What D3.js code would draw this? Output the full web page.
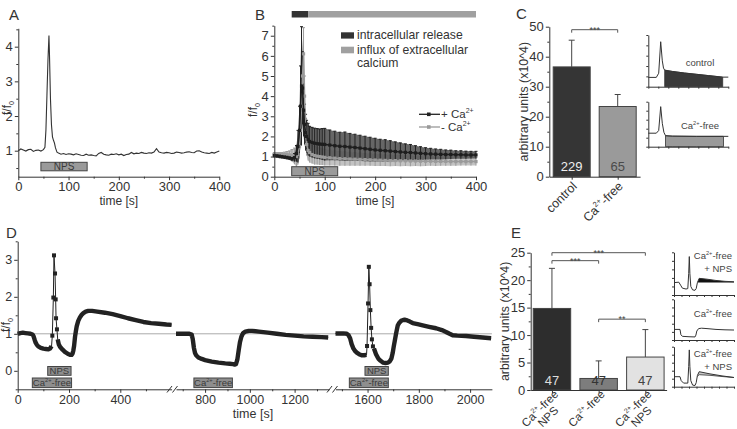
<!DOCTYPE html>
<html><head><meta charset="utf-8">
<script src="https://cdn.jsdelivr.net/npm/d3@7"></script>
<style>html,body{margin:0;padding:0;background:#fff;} svg{display:block;}</style>
</head><body>
<svg id="chart" width="737" height="429"></svg>
<script>
// ================= DATA =================
// Panel A: single-cell trace [time s, f/f0]
const aTrace = [[0,1.0],[5,1.05],[10,1.02],[15,0.99],[20,1.03],[25,1.04],[30,0.98],[35,1.01],[40,1.02],[45,0.99],[50,1.03],
 [53,1.1],[55,1.6],[57,2.6],[59,3.6],[61,4.32],[62,3.8],[64,2.5],[66,1.75],[68,1.4],[70,1.3],[72,1.22],[74,1.08],[77,0.96],
 [80,0.93],[85,0.9],[90,0.92],[95,0.89],[100,0.91],[105,0.9],[110,0.88],[115,0.91],[120,0.89],[125,0.87],[130,0.86],[135,0.9],
 [140,0.87],[145,0.88],[150,0.86],[155,0.85],[160,0.92],[165,0.95],[170,0.9],[175,0.88],[180,0.87],[185,0.9],[190,0.89],[195,0.91],
 [200,0.88],[205,0.9],[210,0.86],[215,0.89],[220,0.9],[225,0.95],[230,0.91],[235,0.93],[240,0.92],[245,0.95],[250,0.93],[255,0.92],
 [260,0.94],[265,0.93],[270,0.96],[275,1.06],[280,0.96],[285,0.94],[290,0.93],[295,0.95],[300,0.94],[305,0.92],[310,0.93],[315,0.96],
 [320,0.95],[325,0.93],[330,0.94],[335,0.96],[340,0.97],[345,0.95],[350,0.94],[355,0.99],[360,1.0],[365,0.96],[370,0.94],[375,0.93],
 [380,0.92],[385,0.95],[390,0.93],[395,0.96],[400,0.99]];
const aStim = [45,137];
const aTicks = [0,100,200,300,400];

// Panel B: mean traces [time, mean, sd]
const bPlusCa = [[0,1.05,0.1],[5,1.04,0.1],[10,1.02,0.1],[15,1.0,0.1],[20,0.98,0.1],[25,0.96,0.1],[30,0.93,0.1],[35,0.9,0.12],[40,0.95,0.2],
 [44,1.15,0.4],[47,1.5,0.8],[50,2.3,1.2],[52,3.5,2.0],[54,4.5,2.95],[56,4.4,1.8],[58,3.3,1.3],[60,2.6,1.0],[62,2.2,0.9],[64,2.0,0.8],
 [67,1.85,0.8],[70,1.75,0.75],[75,1.7,0.75],[80,1.66,0.75],[85,1.64,0.75],[90,1.62,0.75],[95,1.61,0.78],[100,1.6,0.8],[110,1.57,0.75],
 [120,1.54,0.72],[130,1.51,0.7],[140,1.5,0.72],[150,1.47,0.68],[160,1.45,0.66],[170,1.42,0.64],[180,1.39,0.62],[190,1.36,0.6],[200,1.33,0.58],
 [210,1.31,0.55],[220,1.29,0.55],[230,1.27,0.52],[240,1.25,0.48],[250,1.23,0.45],[260,1.21,0.42],[270,1.2,0.4],[280,1.18,0.36],[290,1.16,0.33],
 [300,1.14,0.3],[310,1.13,0.28],[320,1.12,0.26],[330,1.11,0.25],[340,1.1,0.23],[350,1.1,0.22],[360,1.09,0.2],[370,1.09,0.2],[380,1.08,0.19],
 [390,1.08,0.18],[400,1.08,0.18]];
const bMinusCa = [[0,1.1,0.1],[5,1.1,0.1],[10,1.1,0.1],[15,1.1,0.1],[20,1.1,0.12],[25,1.1,0.15],[30,1.08,0.2],[35,1.05,0.3],[40,1.02,0.4],
 [44,1.0,0.5],[47,1.1,0.5],[50,1.5,0.6],[52,2.3,0.8],[54,3.5,1.0],[56,5.0,1.2],[58,6.1,1.3],[60,4.0,1.0],[62,2.2,0.7],[64,1.6,0.55],
 [67,1.3,0.5],[70,1.2,0.5],[75,1.1,0.45],[80,1.05,0.45],[85,1.02,0.42],[90,1.0,0.42],[95,0.98,0.4],[100,0.96,0.4],[110,0.94,0.38],
 [120,0.92,0.37],[130,0.9,0.36],[140,0.89,0.35],[150,0.88,0.34],[160,0.87,0.33],[170,0.86,0.32],[180,0.85,0.31],[190,0.84,0.3],[200,0.83,0.3],
 [210,0.82,0.29],[220,0.81,0.28],[230,0.8,0.28],[240,0.8,0.27],[250,0.79,0.27],[260,0.79,0.26],[270,0.78,0.26],[280,0.78,0.25],[290,0.77,0.25],
 [300,0.77,0.24],[310,0.77,0.23],[320,0.76,0.23],[330,0.76,0.22],[340,0.76,0.22],[350,0.75,0.21],[360,0.75,0.21],[370,0.75,0.2],[380,0.75,0.2],
 [390,0.75,0.2],[400,0.75,0.2]];
const bStim = [34.5,125.7];
const bPhases = [{name:"intracellular release", t0:34.5, t1:67},{name:"influx of extracellular calcium", t0:67, t1:400}];
const bTicksY = [0,1,2,3,4,5,6,7];

// Panel C: bar chart
const cCategories = ["control","Ca-free"];
const cValues = [36.6, 23.4];
const cErrors = [8.9, 4.0];
const cN = [229, 65];
const cTicks = [0,10,20,30,40,50];
const cSig = [{from:0,to:1,level:49,label:"***"}];
// insets of C: schematic traces [t, value]
const cInsetControl = [[0,1.8],[10,1.8],[13,2.6],[15.5,8.7],[17.5,5],[19,3.6],[20.5,3.2],[30,2.95],[45,2.65],[60,2.4],[75,2.15],[93,1.85],[100,1.85]];
const cInsetFree = [[0,3.0],[10,3.0],[13,3.6],[15.5,8.9],[17.5,5.2],[19.5,3.2],[21.5,2.45],[30,2.35],[60,2.3],[94,2.3],[100,2.3]];

// Panel D: three recording segments [time s, f/f0]
const dSeg1 = [[0,1.0],[10,1.02],[20,1.03],[30,1.02],[40,1.01],[50,1.0],[58,0.98],[62,0.93],[66,0.84],[70,0.76],[75,0.7],[80,0.66],[90,0.62],
 [100,0.6],[110,0.59],[120,0.58],[126,0.6],[132,0.67],[135,0.95],[139,1.98],[141.5,3.12],[145.5,2.63],[148,1.93],[149.5,1.42],[153,1.12],
 [156,0.85],[160,0.72],[165,0.65],[175,0.57],[184,0.51],[195,0.46],[204,0.43],[210,0.43],[214,0.47],[217,0.55],[220,0.68],[223.5,0.92],
 [227,1.08],[230,1.2],[236,1.35],[243,1.45],[250,1.52],[256,1.56],[265,1.6],[275,1.62],[290,1.62],[310,1.6],[340,1.57],[370,1.53],
 [400,1.48],[430,1.42],[460,1.37],[490,1.32],[520,1.29],[550,1.27],[580,1.25],[600,1.24]];
const dSeg2 = [[670,1.0],[690,1.0],[710,1.0],[730,1.0],[740,0.98],[745,0.85],[750,0.62],[755,0.48],[760,0.42],[770,0.36],[785,0.32],
 [800,0.29],[830,0.25],[860,0.22],[890,0.2],[910,0.19],[925,0.18],[932,0.17],[938,0.18],[944,0.3],[950,0.55],[956,0.78],[962,0.92],
 [970,1.02],[980,1.06],[995,1.08],[1010,1.08],[1040,1.06],[1080,1.03],[1120,1.0],[1160,0.97],[1200,0.95],[1240,0.93],[1280,0.92],
 [1320,0.91],[1350,0.9]];
const dSeg3 = [[1475,1.01],[1490,1.01],[1505,1.01],[1519,1.0],[1525,0.97],[1532,0.88],[1538,0.72],[1545,0.6],[1552,0.53],[1558,0.49],
 [1567,0.45],[1577,0.42],[1587,0.42],[1596,0.43],[1598,0.67],[1602,1.82],[1605,2.81],[1608,2.34],[1611,1.64],[1614,1.16],[1617,0.85],
 [1621,0.66],[1625,0.6],[1633,0.45],[1642,0.33],[1651,0.27],[1661,0.22],[1670,0.21],[1680,0.22],[1687,0.26],[1693,0.33],[1698,0.48],
 [1702,0.65],[1706,0.8],[1710,0.96],[1714,1.1],[1718,1.23],[1724,1.3],[1731,1.35],[1737,1.37],[1744,1.38],[1755,1.36],[1765,1.33],
 [1776,1.29],[1795,1.26],[1815,1.23],[1840,1.19],[1867,1.15],[1890,1.1],[1906,1.05],[1920,1.0],[1932,0.96],[1950,0.95],[1984,0.94],
 [2015,0.92],[2049,0.9],[2082,0.88]];
const dStimuli = [
  {seg:0,label:"NPS",t0:117,t1:208,row:0},
  {seg:0,label:"Ca-free",t0:57,t1:210,row:1},
  {seg:1,label:"Ca-free",t0:750,t1:922,row:1},
  {seg:2,label:"NPS",t0:1590,t1:1681,row:0},
  {seg:2,label:"Ca-free",t0:1529,t1:1681,row:1}];
const dTicksY = [0,1,2,3];

// Panel E
const eCategories = ["Ca-free + NPS","Ca-free","Ca-free NPS"];
const eValues = [14.85, 2.1, 6.0];
const eErrors = [7.3, 3.2, 5.0];
const eN = [47,47,47];
const eTicks = [0,5,10,15,20,25];
const eSig = [{from:0,to:2,level:25,label:"***"},{from:0,to:1,level:23.55,label:"***"},{from:1,to:2,level:12.9,label:"**"}];
const eInsetTop = [[0,2.9],[8,3.0],[11,2.3],[14,1.6],[20,1.4],[23,1.5],[24.5,5],[25.5,9],[26.5,5],[28,2],[31,1.2],[35,1.1],[37,1.5],[39,2.9],[42,3.9],[55,3.7],[70,3.4],[85,3.2],[100,3.1]];
const eInsetMid = [[0,2.6],[10,2.6],[11.5,1.3],[14,0.9],[25,0.8],[35,0.75],[36.5,1.2],[38,2.2],[41,2.8],[46,2.9],[55,2.8],[70,2.6],[85,2.5],[100,2.45]];
const eInsetBot = [[0,2.5],[10,2.5],[12,1.5],[16,0.9],[23,0.9],[24.5,5],[25.5,9.2],[26.5,5],[28,1.5],[31,0.4],[35,0.3],[37,1.0],[39,2.8],[42,3.75],[60,3.2],[80,2.7],[100,2.3]];
const eInsetBotRef = [[39,2.6],[42,3.0],[60,2.85],[80,2.55],[100,2.3]];

// ================= DRAWING =================
const FONT = 'Arial, "Liberation Sans", Helvetica, sans-serif';
const INK = "#333";
const fmt = d3.format("d");
const svg = d3.select("#chart").attr("font-family", FONT);

function styleAxis(g, fs){
  g.selectAll(".domain").attr("stroke",INK).attr("stroke-width",1);
  g.selectAll(".tick line").attr("stroke",INK);
  g.selectAll(".tick text").attr("fill",INK).attr("font-size",fs).attr("font-family",FONT);
  return g;
}
function minor(g, axis){
  g.call(axis.tickFormat(""));
  g.select(".domain").remove();
  g.selectAll(".tick line").attr("stroke",INK);
}
function range(a,b,s){ const r=[]; for(let v=a; v<=b+1e-9; v+=s) r.push(+v.toFixed(4)); return r; }
function rich(t, parts, fs){
  let cur = 0;
  parts.forEach(p => {
    let s=p, type='n';
    if (Array.isArray(p)) { s=p[0]; type=p[1]; }
    const target = type==='sup' ? -fs*0.42 : type==='sub' ? fs*0.28 : 0;
    const ts = t.append("tspan").text(s);
    if (target-cur !== 0) ts.attr("dy", target-cur);
    if (type!=='n') ts.attr("font-size", fs*0.6);
    cur = target;
  });
  return t;
}
const caFree = ["Ca",["2+","sup"],"-free"];
function panelLetter(x,y,s){ svg.append("text").attr("x",x).attr("y",y).attr("font-size",15).attr("fill",INK).text(s); }
function yLabelFF(x,y){
  const t = svg.append("text").attr("transform",`translate(${x},${y}) rotate(-90)`).attr("text-anchor","middle").attr("font-size",12).attr("fill",INK);
  rich(t, ["f/f",["0","sub"]], 12);
}
function stimBox(g, x0, x1, y, h, parts, fill, fs){
  g.append("rect").attr("x",x0).attr("y",y).attr("width",x1-x0).attr("height",h)
    .attr("fill",fill).attr("stroke","#444").attr("stroke-width",1);
  const t = g.append("text").attr("x",(x0+x1)/2).attr("y",y+h/2+fs*0.36).attr("text-anchor","middle")
    .attr("font-size",fs).attr("fill","#3a3a3a");
  rich(t, parts, fs);
}

// ---------- Panel A ----------
{
  const x = d3.scaleLinear().domain([0,400]).range([18.3,219.3]);
  const y = d3.scaleLinear().domain([0.25,4.53]).range([176.7,28.3]);
  const g = svg.append("g");
  minor(g.append("g").attr("transform","translate(0,176.7)"), d3.axisBottom(x).tickValues(range(50,350,100)).tickSize(2));
  minor(g.append("g").attr("transform","translate(18.3,0)"), d3.axisLeft(y).tickValues([0.5,1.5,2.5,3.5,4.5]).tickSize(2));
  styleAxis(g.append("g").attr("transform","translate(0,176.7)").call(d3.axisBottom(x).tickValues(aTicks).tickFormat(fmt).tickSize(3.5).tickSizeOuter(0).tickPadding(1.5)),13);
  styleAxis(g.append("g").attr("transform","translate(18.3,0)").call(d3.axisLeft(y).tickValues([1,2,3,4]).tickFormat(fmt).tickSize(3.5).tickSizeOuter(0).tickPadding(2)),13);
  g.append("path").datum(aTrace).attr("fill","none").attr("stroke","#333").attr("stroke-width",1.1)
    .attr("d", d3.line().x(d=>x(d[0])).y(d=>y(d[1])));
  stimBox(g, x(aStim[0]), x(aStim[1]), 162.3, 8.5, ["NPS"], "#9a9a9a", 10);
  g.append("text").attr("x",(18.3+219.3)/2).attr("y",205).attr("text-anchor","middle").attr("font-size",12).attr("fill",INK).text("time [s]");
  yLabelFF(11,108);
  panelLetter(9,20,"A");
}

// ---------- Panel B ----------
{
  const x = d3.scaleLinear().domain([0,400]).range([274.3,476]);
  const y = d3.scaleLinear().domain([0,7.5]).range([176.7,25.65]);
  const g = svg.append("g");
  g.selectAll("rect.phase").data(bPhases).enter().append("rect")
    .attr("x",d=>x(d.t0)).attr("width",d=>x(d.t1)-x(d.t0)).attr("y",11).attr("height",6.5)
    .attr("fill",(d,i)=>i===0?"#333":"#a0a0a0");
  const series = [{data:bMinusCa, band:"#bdbdbd", bar:"#9c9c9c", line:"#9a9a9a"},{data:bPlusCa, band:"#555", bar:"#222", line:"#1e1e1e"}];
  series.forEach(s=>{
    g.append("path").datum(s.data).attr("fill",s.band).attr("opacity",0.9)
      .attr("d", d3.area().x(d=>x(d[0])).y0(d=>y(Math.max(0,d[1]-d[2]))).y1(d=>y(d[1]+d[2])));
    g.selectAll(null).data(s.data).enter().append("line")
      .attr("x1",d=>x(d[0])).attr("x2",d=>x(d[0])).attr("y1",d=>y(Math.max(0,d[1]-d[2]))).attr("y2",d=>y(d[1]+d[2]))
      .attr("stroke",s.bar).attr("stroke-width",1);
    g.selectAll(null).data(s.data).enter().append("line")
      .attr("x1",d=>x(d[0])-1.5).attr("x2",d=>x(d[0])+1.5).attr("y1",d=>y(d[1]+d[2])).attr("y2",d=>y(d[1]+d[2]))
      .attr("stroke",s.bar).attr("stroke-width",1);
  });
  series.forEach(s=>{
    g.append("path").datum(s.data).attr("fill","none").attr("stroke",s.line).attr("stroke-width",1.5)
      .attr("d", d3.line().x(d=>x(d[0])).y(d=>y(d[1])));
    g.selectAll(null).data(s.data).enter().append("rect")
      .attr("x",d=>x(d[0])-1.6).attr("y",d=>y(d[1])-1.6).attr("width",3.2).attr("height",3.2).attr("fill",s.line);
  });
  minor(g.append("g").attr("transform","translate(0,176.7)"), d3.axisBottom(x).tickValues(range(50,350,100)).tickSize(2));
  minor(g.append("g").attr("transform","translate(274.3,0)"), d3.axisLeft(y).tickValues(range(0.5,7.5,1)).tickSize(2));
  styleAxis(g.append("g").attr("transform","translate(0,176.7)").call(d3.axisBottom(x).tickValues(aTicks).tickFormat(fmt).tickSize(3.5).tickSizeOuter(0).tickPadding(1.5)),13);
  styleAxis(g.append("g").attr("transform","translate(274.3,0)").call(d3.axisLeft(y).tickValues(bTicksY).tickFormat(fmt).tickSize(3.5).tickSizeOuter(0).tickPadding(2)),13);
  stimBox(g, x(bStim[0]), x(bStim[1]), 166.7, 9, ["NPS"], "#9a9a9a", 10);
  g.append("rect").attr("x",341).attr("y",32.3).attr("width",13).attr("height",6.3).attr("fill","#333");
  g.append("rect").attr("x",341).attr("y",46.7).attr("width",13).attr("height",6.6).attr("fill","#a0a0a0");
  const lt = (yy,s)=>g.append("text").attr("x",357).attr("y",yy).attr("font-size",12.2).attr("fill",INK).text(s);
  lt(39,"intracellular release"); lt(53.5,"influx of extracellular"); lt(66.5,"calcium");
  [{y:114.3,c:"#222",sign:"+ "},{y:127,c:"#9a9a9a",sign:"- "}].forEach(o=>{
    g.append("line").attr("x1",419).attr("x2",440).attr("y1",o.y).attr("y2",o.y).attr("stroke",o.c).attr("stroke-width",1.3);
    g.append("rect").attr("x",427).attr("y",o.y-1.8).attr("width",3.6).attr("height",3.6).attr("fill",o.c);
    const t = g.append("text").attr("x",441).attr("y",o.y+4).attr("font-size",11.5).attr("fill",INK);
    rich(t,[o.sign+"Ca",["2+","sup"]],11.5);
  });
  g.append("text").attr("x",375).attr("y",205).attr("text-anchor","middle").attr("font-size",12).attr("fill",INK).text("time [s]");
  yLabelFF(257,110);
  panelLetter(255,20,"B");
}

// ---------- bar chart helper ----------
function barChart(opt){
  const g = svg.append("g");
  const x = d3.scaleBand().domain(d3.range(opt.values.length)).range(opt.xRange).paddingInner(opt.pin).paddingOuter(opt.pout);
  const y = d3.scaleLinear().domain(opt.yDomain).range(opt.yRange);
  const base = opt.yRange[0];
  opt.values.forEach((v,i)=>{
    const cx = x(i)+x.bandwidth()/2;
    g.append("line").attr("x1",cx).attr("x2",cx).attr("y1",y(v)).attr("y2",y(v+opt.errors[i])).attr("stroke","#444").attr("stroke-width",1);
    g.append("line").attr("x1",cx-3).attr("x2",cx+3).attr("y1",y(v+opt.errors[i])).attr("y2",y(v+opt.errors[i])).attr("stroke","#444").attr("stroke-width",1);
  });
  g.selectAll(null).data(opt.values).enter().append("rect")
    .attr("x",(d,i)=>x(i)+0.5).attr("width",x.bandwidth()-1).attr("y",d=>y(d)).attr("height",d=>base-y(d))
    .attr("fill",(d,i)=>opt.fills[i]).attr("stroke","#444").attr("stroke-width",1);
  g.selectAll(null).data(opt.n).enter().append("text")
    .attr("x",(d,i)=>x(i)+x.bandwidth()/2).attr("y",base-5.5).attr("text-anchor","middle")
    .attr("font-size",13).attr("fill",(d,i)=>opt.nColors[i]).text(d=>d);
  minor(g.append("g").attr("transform",`translate(${opt.xRange[0]},0)`), d3.axisLeft(y).tickValues(opt.minors).tickSize(2));
  styleAxis(g.append("g").attr("transform",`translate(${opt.xRange[0]},0)`).call(d3.axisLeft(y).tickValues(opt.ticks).tickFormat(fmt).tickSize(3.5).tickSizeOuter(0).tickPadding(2)),13);
  const xa = g.append("g").attr("transform",`translate(0,${base})`)
    .call(d3.axisBottom(d3.scaleLinear().domain(opt.xRange).range(opt.xRange)).tickValues(d3.range(opt.values.length).map(i=>x(i)+x.bandwidth()/2)).tickSize(3).tickSizeOuter(0).tickFormat(""));
  styleAxis(xa,12);
  opt.sig.forEach(s=>{
    const x1 = x(s.from)+x.bandwidth()/2, x2 = x(s.to)+x.bandwidth()/2, yy = y(s.level);
    g.append("path").attr("d",`M${x1},${yy+3}V${yy}H${x2}V${yy+3}`).attr("fill","none").attr("stroke","#555").attr("stroke-width",1);
    g.append("text").attr("x",(x1+x2)/2).attr("y",yy+3.3).attr("text-anchor","middle").attr("font-size",9).attr("fill","#444").text(s.label);
  });
  g.append("text").attr("transform",`translate(${opt.yLabelX},${(opt.yRange[0]+opt.yRange[1])/2}) rotate(-90)`)
    .attr("text-anchor","middle").attr("font-size",12.4).attr("fill",INK).text("arbitrary units (x10^4)");
  return {g,x,y};
}

// ---------- Panel C ----------
{
  const {g,x} = barChart({values:cValues, errors:cErrors, n:cN, xRange:[549.3,640.1], pin:0.174, pout:0.074,
    yDomain:[0,50], yRange:[176.7,26.7], ticks:cTicks, minors:range(5,45,10), fills:["#353535","#9a9a9a"],
    nColors:["#eeeeee","#4a4a4a"], sig:cSig, yLabelX:528});
  const labels = [["control"], caFree];
  labels.forEach((parts,i)=>{
    const cx = x(i)+x.bandwidth()/2;
    const t = g.append("text").attr("transform",`translate(${cx+6},${187}) rotate(-45)`).attr("text-anchor","end").attr("font-size",12.5).attr("fill",INK);
    rich(t, parts, 12.5);
  });
  panelLetter(516,19,"C");
  const insets = [{data:cInsetControl, fillRange:[20.5,93], fill:"#3a3a3a", top:35, bottom:86.7, label:["control"], ly:66},
                  {data:cInsetFree, fillRange:[21.5,94], fill:"#9a9a9a", top:101.7, bottom:146.7, label:caFree, ly:128.5}];
  insets.forEach(o=>{
    const ix = d3.scaleLinear().domain([0,100]).range([648.3,728.3]);
    const iy = d3.scaleLinear().domain([0,10]).range([o.bottom,o.top]);
    const sub = o.data.filter(d=>d[0]>=o.fillRange[0] && d[0]<=o.fillRange[1]);
    g.append("path").datum(sub).attr("fill",o.fill).attr("stroke","#333").attr("stroke-width",0.8)
      .attr("d", d3.area().x(d=>ix(d[0])).y0(iy(0)).y1(d=>iy(d[1])));
    g.append("path").datum(o.data).attr("fill","none").attr("stroke","#333").attr("stroke-width",1)
      .attr("d", d3.line().x(d=>ix(d[0])).y(d=>iy(d[1])));
    styleAxis(g.append("g").attr("transform",`translate(0,${o.bottom})`).call(d3.axisBottom(ix).tickValues(range(0,100,12.5)).tickSize(2).tickSizeOuter(0).tickFormat("")),8);
    styleAxis(g.append("g").attr("transform",`translate(648.3,0)`).call(d3.axisLeft(iy).tickValues(range(0,10,2)).tickSize(2).tickSizeOuter(0).tickFormat("")),8);
    const t = g.append("text").attr("x",700).attr("y",o.ly).attr("text-anchor","middle").attr("font-size",9.5).attr("fill","#444");
    rich(t, o.label, 9.5);
  });
}

// ---------- Panel D ----------
{
  const g = svg.append("g");
  const y = d3.scaleLinear().domain([-0.5,3.5]).range([389.3,241.3]);
  const segs = [
    {data:dSeg1, x:d3.scaleLinear().domain([0,600]).range([17.7,171.6]), majors:[0,200,400], minors:[100,300,500], spike:[133,155]},
    {data:dSeg2, x:d3.scaleLinear().domain([670,1355]).range([176,329.3]), majors:[800,1000,1200], minors:[700,900,1100,1300], spike:null},
    {data:dSeg3, x:d3.scaleLinear().domain([1475,2085]).range([335.5,491.9]), majors:[1600,1800,2000], minors:[1500,1700,1900], spike:[1597,1622]}];
  g.append("line").attr("x1",17.7).attr("x2",491.9).attr("y1",y(1)).attr("y2",y(1)).attr("stroke","#aaa").attr("stroke-width",1);
  segs.forEach(s=>{
    const x = s.x;
    const inSpike = d => s.spike && d[0]>=s.spike[0] && d[0]<=s.spike[1];
    g.append("path").datum(s.data).attr("fill","none").attr("stroke","#222").attr("stroke-width",1)
      .attr("d", d3.line().x(d=>x(d[0])).y(d=>y(d[1])));
    g.append("path").datum(s.data).attr("fill","none").attr("stroke","#222").attr("stroke-width",4.4).attr("stroke-linejoin","round")
      .attr("d", d3.line().defined(d=>!inSpike(d)).x(d=>x(d[0])).y(d=>y(d[1])));
    g.selectAll(null).data(s.data.filter(inSpike)).enter().append("rect")
      .attr("x",d=>x(d[0])-2).attr("y",d=>y(d[1])-2).attr("width",4).attr("height",4).attr("fill","#222");
    minor(g.append("g").attr("transform","translate(0,389.3)"), d3.axisBottom(x).tickValues(s.minors).tickSize(2));
    styleAxis(g.append("g").attr("transform","translate(0,389.3)").call(d3.axisBottom(x).tickValues(s.majors).tickFormat(fmt).tickSize(3.5).tickSizeOuter(0).tickPadding(2)),12.5);
  });
  [[169.5,175],[329.5,335]].forEach(b=>{
    b.forEach(bx=>g.append("line").attr("x1",bx-2.5).attr("x2",bx+2.5).attr("y1",392.5).attr("y2",386).attr("stroke",INK).attr("stroke-width",1));
  });
  dStimuli.forEach(s=>{
    const x = segs[s.seg].x;
    const parts = s.label==="NPS" ? ["NPS"] : caFree;
    stimBox(g, x(s.t0), x(s.t1), s.row===0?366.5:378, s.row===0?8.8:9.6, parts, "#8e8e8e", 9.5);
  });
  minor(g.append("g").attr("transform","translate(17.7,0)"), d3.axisLeft(y).tickValues([-0.5,0.5,1.5,2.5,3.5]).tickSize(2));
  styleAxis(g.append("g").attr("transform","translate(17.7,0)").call(d3.axisLeft(y).tickValues(dTicksY).tickFormat(fmt).tickSize(3.5).tickSizeOuter(0).tickPadding(2)),12.5);
  g.append("text").attr("x",253).attr("y",418).attr("text-anchor","middle").attr("font-size",12.5).attr("fill",INK).text("time [s]");
  yLabelFF(9.5,325);
  panelLetter(6,238,"D");
}

// ---------- Panel E ----------
{
  const {g,x} = barChart({values:eValues, errors:eErrors, n:eN, xRange:[530.7,666.6], pin:0.176, pout:0.043,
    yDomain:[0,25], yRange:[390,252.7], ticks:eTicks, minors:range(2.5,22.5,5), fills:["#2d2d2d","#7d7d7d","#e2e2e2"],
    nColors:["#dddddd","#333","#444"], sig:eSig, yLabelX:509});
  const lines = [[caFree,["NPS"]],[caFree],[caFree,["NPS"]]];
  lines.forEach((ls,i)=>{
    const cx = x(i)+x.bandwidth()/2;
    const grp = g.append("g").attr("transform",`translate(${cx+7},${395}) rotate(-45)`);
    const t1 = grp.append("text").attr("text-anchor","end").attr("font-size",11.5).attr("fill",INK);
    rich(t1, ls[0], 11.5);
    if (ls[1]) {
      const w = t1.node().getComputedTextLength();
      const t2 = grp.append("text").attr("x",-w/2).attr("y",11.5).attr("text-anchor","middle").attr("font-size",11.5).attr("fill",INK);
      rich(t2, ls[1], 11.5);
    }
  });
  panelLetter(511,238,"E");
  const ix = d3.scaleLinear().domain([0,100]).range([674,734]);
  const insets = [{data:eInsetTop, top:252.3, bottom:295, labels:[[caFree,259],[["+ NPS"],272]]},
                  {data:eInsetMid, top:299.3, bottom:340, labels:[[caFree,317]]},
                  {data:eInsetBot, top:346.7, bottom:386.7, labels:[[caFree,357],[["+ NPS"],370]]}];
  insets.forEach((o,k)=>{
    const iy = d3.scaleLinear().domain([0,10]).range([o.bottom,o.top]);
    if (k===0){
      const sub = o.data.filter(d=>d[0]>=39);
      g.append("path").datum(sub).attr("fill","#111")
        .attr("d", d3.area().x(d=>ix(d[0])).y0(iy(o.data[0][1])).y1(d=>iy(d[1])));
    }
    if (k===2){
      const merged = eInsetBotRef.map(r=>{ const m=o.data.find(d=>d[0]===r[0]); return [r[0], r[1], m?m[1]:r[1]]; });
      g.append("path").datum(merged).attr("fill","#c8c8c8")
        .attr("d", d3.area().x(d=>ix(d[0])).y0(d=>iy(d[1])).y1(d=>iy(d[2])));
      g.append("path").datum(eInsetBotRef).attr("fill","none").attr("stroke","#555").attr("stroke-width",1)
        .attr("d", d3.line().x(d=>ix(d[0])).y(d=>iy(d[1])));
    }
    g.append("path").datum(o.data).attr("fill","none").attr("stroke","#333").attr("stroke-width",1)
      .attr("d", d3.line().x(d=>ix(d[0])).y(d=>iy(d[1])));
    styleAxis(g.append("g").attr("transform",`translate(0,${o.bottom})`).call(d3.axisBottom(ix).tickValues(range(0,100,12.5)).tickSize(2).tickSizeOuter(0).tickFormat("")),8);
    styleAxis(g.append("g").attr("transform",`translate(674,0)`).call(d3.axisLeft(iy).tickValues(range(0,10,2)).tickSize(2).tickSizeOuter(0).tickFormat("")),8);
    o.labels.forEach(([parts,ly])=>{
      const t = g.append("text").attr("x",732).attr("y",ly).attr("text-anchor","end").attr("font-size",9.5).attr("fill","#444");
      rich(t, parts, 9.5);
    });
  });
}
</script>
</body></html>
